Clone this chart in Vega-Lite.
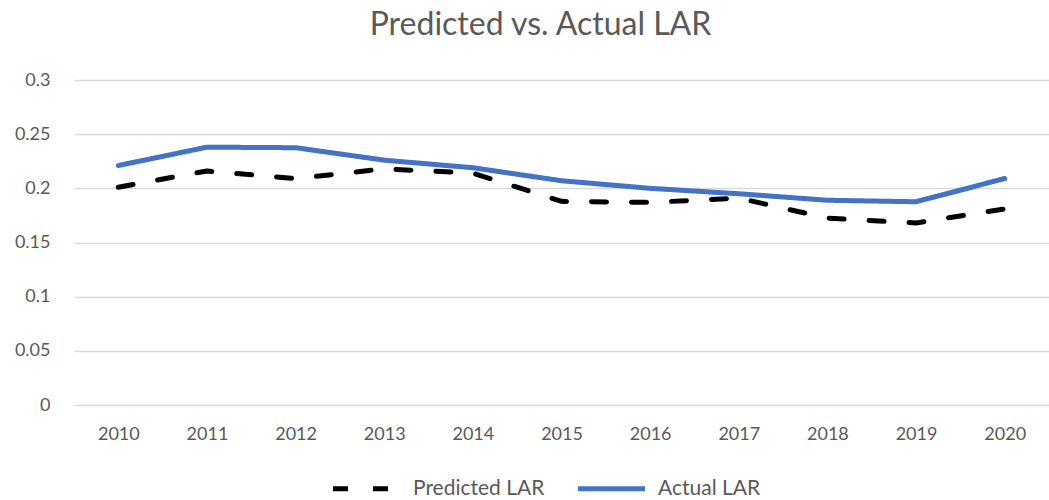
{
  "$schema": "https://vega.github.io/schema/vega-lite/v6.json",
  "width": 975,
  "height": 325,
  "autosize": {"type": "none"},
  "padding": {"left": 74, "top": 80, "right": 0, "bottom": 95},
  "background": "#ffffff",
  "title": {
    "text": "Predicted vs. Actual LAR",
    "font": "Lato",
    "fontSize": 32,
    "fontWeight": "normal",
    "color": "#595959",
    "anchor": "middle",
    "dx": -21,
    "offset": 29
  },
  "data": {
    "values": [
      {"year": "2010", "series": "Predicted LAR", "value": 0.201},
      {"year": "2011", "series": "Predicted LAR", "value": 0.216},
      {"year": "2012", "series": "Predicted LAR", "value": 0.209},
      {"year": "2013", "series": "Predicted LAR", "value": 0.218},
      {"year": "2014", "series": "Predicted LAR", "value": 0.214},
      {"year": "2015", "series": "Predicted LAR", "value": 0.188},
      {"year": "2016", "series": "Predicted LAR", "value": 0.187},
      {"year": "2017", "series": "Predicted LAR", "value": 0.191},
      {"year": "2018", "series": "Predicted LAR", "value": 0.1725},
      {"year": "2019", "series": "Predicted LAR", "value": 0.168},
      {"year": "2020", "series": "Predicted LAR", "value": 0.181},
      {"year": "2010", "series": "Actual LAR", "value": 0.221},
      {"year": "2011", "series": "Actual LAR", "value": 0.238},
      {"year": "2012", "series": "Actual LAR", "value": 0.2375},
      {"year": "2013", "series": "Actual LAR", "value": 0.226},
      {"year": "2014", "series": "Actual LAR", "value": 0.219},
      {"year": "2015", "series": "Actual LAR", "value": 0.207},
      {"year": "2016", "series": "Actual LAR", "value": 0.2},
      {"year": "2017", "series": "Actual LAR", "value": 0.195},
      {"year": "2018", "series": "Actual LAR", "value": 0.189},
      {"year": "2019", "series": "Actual LAR", "value": 0.1876},
      {"year": "2020", "series": "Actual LAR", "value": 0.209}
    ]
  },
  "mark": {"type": "line", "strokeWidth": 5, "strokeCap": "round", "strokeJoin": "round"},
  "encoding": {
    "x": {
      "field": "year",
      "type": "ordinal",
      "scale": {"type": "point", "padding": 0.5},
      "axis": {
        "title": null,
        "labelAngle": 0,
        "labelFont": "Lato",
        "labelFontSize": 18,
        "labelColor": "#595959",
        "labelPadding": 20,
        "ticks": false,
        "domain": false,
        "grid": false
      }
    },
    "y": {
      "field": "value",
      "type": "quantitative",
      "scale": {"domain": [0, 0.3], "nice": false},
      "axis": {
        "title": null,
        "values": [0, 0.05, 0.1, 0.15, 0.2, 0.25, 0.3],
        "format": "~g",
        "labelFont": "Lato",
        "labelFontSize": 18,
        "labelColor": "#595959",
        "labelPadding": 24,
        "ticks": false,
        "domain": false,
        "grid": true,
        "gridColor": "#d9d9d9",
        "gridWidth": 1.5
      }
    },
    "color": {
      "field": "series",
      "type": "nominal",
      "sort": ["Predicted LAR", "Actual LAR"],
      "scale": {"domain": ["Predicted LAR", "Actual LAR"], "range": ["#000000", "#4472C4"]},
      "legend": {
        "title": null,
        "orient": "none",
        "direction": "horizontal",
        "legendX": 256,
        "legendY": 372,
        "symbolType": "stroke",
        "symbolSize": 4500,
        "symbolStrokeWidth": 5,
        "labelFont": "Lato",
        "labelFontSize": 21,
        "labelColor": "#595959",
        "labelOffset": 10,
        "columnPadding": 22
      }
    },
    "strokeDash": {
      "field": "series",
      "type": "nominal",
      "sort": ["Predicted LAR", "Actual LAR"],
      "scale": {"domain": ["Predicted LAR", "Actual LAR"], "range": [[15, 25], [1, 0]]},
      "legend": {
        "title": null,
        "orient": "none",
        "direction": "horizontal",
        "legendX": 256,
        "legendY": 372,
        "symbolType": "stroke",
        "symbolSize": 4500,
        "symbolStrokeWidth": 5,
        "labelFont": "Lato",
        "labelFontSize": 21,
        "labelColor": "#595959",
        "labelOffset": 10,
        "columnPadding": 22
      }
    }
  },
  "config": {"view": {"stroke": null}}
}
